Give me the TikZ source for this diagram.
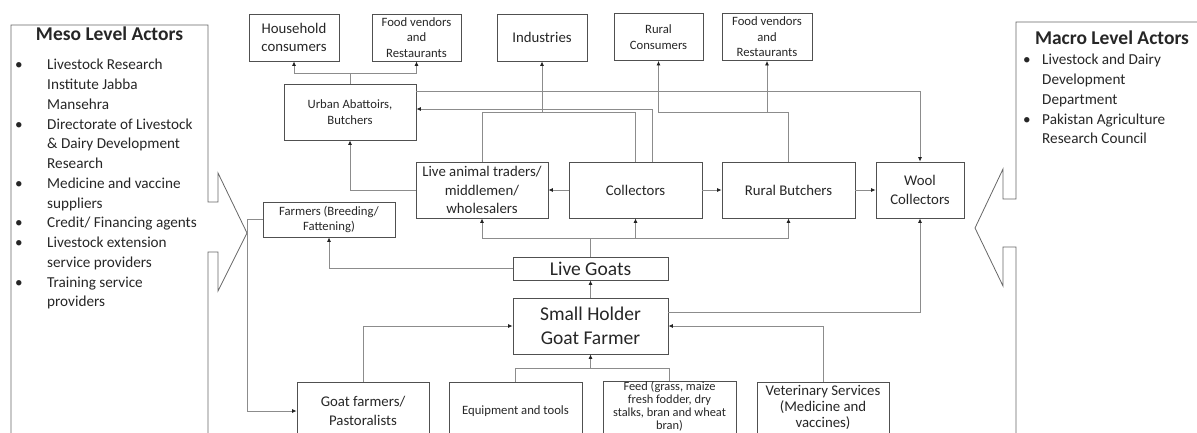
\documentclass[tikz,border=0pt]{standalone}
\usepackage{fontspec}
\setmainfont{Carlito}
\usetikzlibrary{arrows.meta}
\definecolor{boxc}{HTML}{505050}
\definecolor{linec}{HTML}{8C8C8C}
\definecolor{shapec}{HTML}{666666}
\definecolor{txt}{HTML}{262626}
\definecolor{tipc}{HTML}{202020}
\newcommand\mybul[1]{\makebox[#1][l]{\textbullet}}
\newcommand\myind[1]{\hspace*{#1}}
\newcommand\lift[1]{\rule[-#1]{0pt}{0pt}}
\begin{document}
\begin{tikzpicture}[x=1pt,y=-1pt,
  box/.style={draw=boxc, line width=0.8pt, inner sep=0pt, align=center, text=txt,
    font=\fontsize{14.8}{18.5}\selectfont},
  sm/.style={font=\fontsize{12.7}{15.5}\selectfont},
  big/.style={font=\fontsize{19.5}{24}\selectfont},
  conn/.style={draw=linec, line width=0.8pt},
  arr/.style={conn, -{Latex[length=4.5pt,width=4pt,color=tipc]}},
  actor/.style={draw=shapec, line width=0.8pt},
  lst/.style={anchor=north west, inner sep=0pt, align=left, text=txt,
    font=\fontsize{15.2}{19.75}\selectfont},
  head/.style={inner sep=0pt, text=txt, font=\fontsize{19.5}{23}\selectfont\bfseries},
]
\useasboundingbox (0,0) rectangle (1197,432);
\clip (0,0) rectangle (1197,432);

% actor frames
\draw[actor] (11,445) -- (11,25) -- (208,25) -- (208,202) -- (218,202) -- (218,173)
  -- (247,233) -- (218,291) -- (218,252) -- (208,252) -- (208,445);
\draw[actor] (1205,22) -- (1016,22) -- (1016,199) -- (1003,199) -- (1003,169)
  -- (975,228) -- (1003,286) -- (1003,247) -- (1016,247) -- (1016,445);

\node[head] (mesoh) at (109.5,34) {Meso Level Actors};
\node[lst] (mesol) at (15,59) {%
\mybul{32pt}Livestock Research\\
\myind{32pt}Institute Jabba\\
\myind{32pt}Mansehra\\
\mybul{32pt}Directorate of Livestock\\
\myind{32pt}\& Dairy Development\\
\myind{32pt}Research\\
\mybul{32pt}Medicine and vaccine\\
\myind{32pt}suppliers\\
\mybul{32pt}Credit/ Financing agents\\
\mybul{32pt}Livestock extension\\
\myind{32pt}service providers\\
\mybul{32pt}Training service\\
\myind{32pt}providers};

\node[head] (macroh) at (1112,38) {Macro Level Actors};
\node[lst] (macrol) at (1023,54) {%
\mybul{19pt}Livestock and Dairy\\
\myind{19pt}Development\\
\myind{19pt}Department\\
\mybul{19pt}Pakistan Agriculture\\
\myind{19pt}Research Council};

% top row
\node[box, minimum width=90pt, minimum height=47pt] (hh) at (294,37.5) {Household\\consumers};
\node[box, sm, minimum width=89pt, minimum height=47pt] (fv1) at (416.5,37.5) {Food vendors\\and\\Restaurants};
\node[box, minimum width=90pt, minimum height=47pt] (ind) at (542,37.5) {Industries};
\node[box, sm, minimum width=89pt, minimum height=47pt] (rc) at (658.5,37) {Rural\\Consumers};
\node[box, sm, minimum width=90pt, minimum height=47pt] (fv2) at (767,37) {Food vendors\\and\\Restaurants};

\node[box, sm, minimum width=132pt, minimum height=56pt] (urb) at (350,112) {Urban Abattoirs,\\Butchers};

% middle row
\node[box, minimum width=132pt, minimum height=56pt] (lat) at (482,190) {Live animal traders/\\middlemen/\\wholesalers};
\node[box, minimum width=133pt, minimum height=56pt] (col) at (635.5,190) {Collectors};
\node[box, minimum width=133pt, minimum height=56pt] (rb) at (788.5,190) {Rural Butchers};
\node[box, minimum width=88pt, minimum height=56pt] (wool) at (920,190) {Wool\\Collectors};
\node[box, sm, minimum width=132pt, minimum height=35pt] (farm) at (329,219.5) {Farmers (Breeding/\\Fattening)};

\node[box, big, minimum width=155pt, minimum height=23pt] (lg) at (590.5,268.5) {Live Goats};
\node[box, big, minimum width=155pt, minimum height=56pt] (sh) at (590.5,326) {Small Holder\\Goat Farmer};

% bottom row
\node[box, minimum width=132pt, minimum height=58pt] (gf) at (363,411) {Goat farmers/\\Pastoralists};
\node[box, sm, minimum width=133pt, minimum height=58pt] (eq) at (515.5,411) {Equipment and tools};
\node[box, font=\fontsize{12.4}{13.2}\selectfont, minimum width=133pt, minimum height=58pt] (feed) at (669.5,411) {Feed (grass, maize\\fresh fodder, dry\\stalks, bran and wheat\\bran)\lift{11pt}};
\node[box, font=\fontsize{14.8}{16}\selectfont, minimum width=132pt, minimum height=58pt] (vet) at (823,411) {Veterinary Services\\(Medicine and\\vaccines)\lift{9pt}};

% connectors
\coordinate (j1) at (urb.north |- 0,73);
\draw[conn] (urb.north) -- (j1);
\draw[arr] (j1) -| (hh.south);
\draw[arr] (j1) -| (fv1.south);

\draw[arr] (urb.east |- 0,91) -| (wool.north);
\draw[arr] (col.north -| 652,0) |- (urb.east |- 0,109);

\coordinate (j2) at (ind.south |- 0,112);
\draw[conn] (lat.north) |- (col.north |- 0,112) -- (col.north);
\draw[arr] (j2) -- (ind.south);

\coordinate (j3) at (fv2.south |- 0,112);
\draw[arr] (rb.north) |- (rc.south |- 0,112) -- (rc.south);
\draw[arr] (j3) -- (fv2.south);

\draw[arr] (lat.west) -| (urb.south);
\draw[arr] (col.west) -- (lat.east);
\draw[arr] (col.east) -- (rb.west);
\draw[arr] (rb.east) -- (wool.west);

\coordinate (j4) at (lg.north |- 0,238);
\draw[conn] (lg.north) -- (j4);
\draw[arr] (j4) -| (lat.south);
\draw[arr] (j4) -| (col.south);
\draw[arr] (j4) -| (rb.south);

\draw[arr] (lg.west) -| (farm.south);
\draw[arr] (sh.north) -- (lg.south);
\draw[arr] (sh.east |- 0,312) -| (wool.south);
\draw[arr] (vet.north) |- (sh.east);
\draw[arr] (gf.north) |- (sh.west);

\coordinate (j5) at (sh.south |- 0,368);
\draw[conn] (eq.north) |- (feed.north |- 0,368) -- (feed.north);
\draw[arr] (j5) -- (sh.south);

\coordinate (j6) at (247,219.5);
\draw[arr] (farm.west) -- (j6) |- (gf.west);
\end{tikzpicture}
\end{document}
